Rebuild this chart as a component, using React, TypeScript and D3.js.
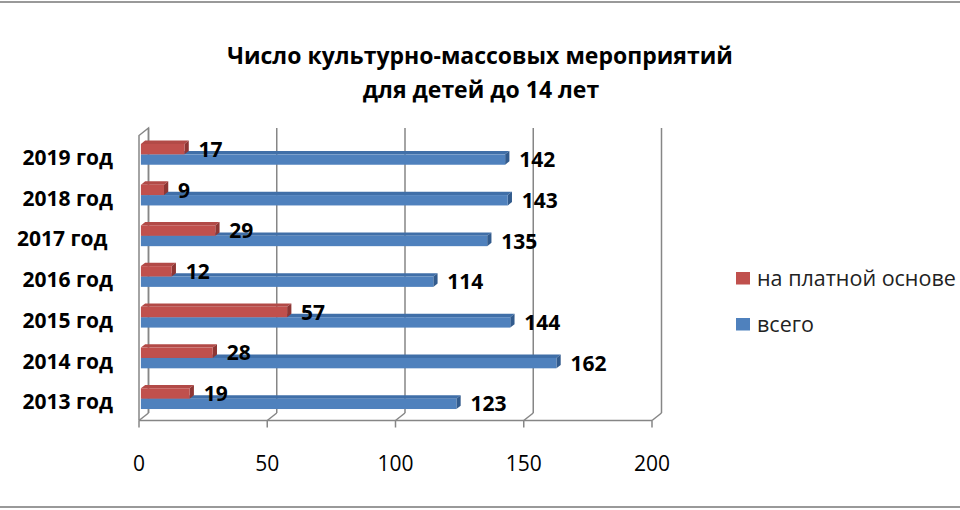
import * as d3 from "d3";

const years = ["2013 год", "2014 год", "2015 год", "2016 год", "2017 год ", "2018 год", "2019 год"];
const paid = [19, 28, 57, 12, 29, 9, 17];
const total = [123, 162, 144, 114, 135, 143, 142];
const xTicks = [0, 50, 100, 150, 200];
const seriesNames = ["на платной основе", "всего"];

const WIDTH = 960;
const HEIGHT = 510;
const FONT = "'Open Sans', 'DejaVu Sans', sans-serif";

// 3D depth offset (front -> back)
const DX = 9.5;
const DY = -7.5;
const D0 = 0.2;
const D1 = 0.65;

const colors = {
  paid: { front: "#C0504D", top: "#B24A47", side: "#8E3634" },
  total: { front: "#4F81BD", top: "#406FA8", side: "#325B8D" },
};

export default function App() {
  const x = d3.scaleLinear().domain([0, 200]).range([139, 652]);
  const y = d3
    .scaleBand()
    .domain([...years].reverse())
    .range([135.5, 420.5])
    .paddingInner(0.49)
    .paddingOuter(0.245);
  const sub = d3.scaleBand().domain(["paid", "total"]).range([0, y.bandwidth()]);

  const floorY = 420.5;
  const wallTop = 135.5;
  const gridColor = "#868686";

  const bar = (key: "paid" | "total", cat: string, v: number) => {
    const yt = (y(cat) || 0) + (sub(key) || 0);
    const yb = yt + sub.bandwidth();
    const x0 = x(0);
    const x1 = x(v);
    const c = colors[key];
    const p = (xx: number, yy: number, d: number) => `${xx + d * DX},${yy + d * DY}`;
    return (
      <g key={key + cat}>
        <polygon
          points={[p(x0, yt, D0), p(x1, yt, D0), p(x1, yt, D1), p(x0, yt, D1)].join(" ")}
          fill={c.top}
        />
        <polygon
          points={[p(x1, yt, D0), p(x1, yt, D1), p(x1, yb, D1), p(x1, yb, D0)].join(" ")}
          fill={c.side}
        />
        <rect x={x0 + D0 * DX} y={yt + D0 * DY} width={x1 - x0} height={yb - yt} fill={c.front} />
        <text
          x={x1 + D0 * DX + 14}
          y={(yt + yb) / 2 + D0 * DY + 2}
          dominantBaseline="middle"
          fontFamily={FONT}
          fontWeight="bold"
          fontSize={21}
          fill="#000"
        >
          {v}
        </text>
      </g>
    );
  };

  return (
    <svg
      width={WIDTH}
      height={HEIGHT}
      style={{ position: "absolute", left: 0, top: 0, background: "#fff" }}
    >
      <line x1={0} x2={WIDTH} y1={2} y2={2} stroke="#999" strokeWidth={2} />
      <line x1={0} x2={WIDTH} y1={507} y2={507} stroke="#999" strokeWidth={2} />

      <text x={480} y={64} textAnchor="middle" fontFamily={FONT} fontWeight="bold" fontSize={23}>
        Число культурно-массовых мероприятий
      </text>
      <text x={481} y={98} textAnchor="middle" fontFamily={FONT} fontWeight="bold" fontSize={23}>
        для детей до 14 лет
      </text>

      {/* walls and grid */}
      <g stroke={gridColor} strokeWidth={1.5} fill="none">
        <polyline
          points={`${x(0) + DX},${floorY + DY} ${x(0) + DX},${wallTop + DY} ${x(0)},${wallTop} ${x(0)},${floorY}`}
        />
        {xTicks.map((t) => (
          <g key={t}>
            <line x1={x(t) + DX} x2={x(t) + DX} y1={wallTop + DY} y2={floorY + DY} />
            <line x1={x(t) + DX} x2={x(t)} y1={floorY + DY} y2={floorY} />
            <line x1={x(t)} x2={x(t)} y1={floorY} y2={floorY + 7} />
          </g>
        ))}
        <line x1={x(0)} x2={x(200)} y1={floorY} y2={floorY} />
      </g>

      {years.map((cat, i) => (
        <g key={cat}>
          {bar("total", cat, total[i])}
          {bar("paid", cat, paid[i])}
          <text
            x={113}
            y={(y(cat) || 0) + y.bandwidth() / 2 + D0 * DY + 5}
            textAnchor="end"
            dominantBaseline="middle"
            fontFamily={FONT}
            fontWeight="bold"
            fontSize={21}
            style={{ whiteSpace: "pre" }}
          >
            {cat}
          </text>
        </g>
      ))}

      {xTicks.map((t) => (
        <text key={t} x={x(t)} y={471} textAnchor="middle" fontFamily={FONT} fontSize={21} fill="#000">
          {t}
        </text>
      ))}

      {/* legend */}
      {seriesNames.map((name, i) => (
        <g key={name} transform={`translate(736,${272 + i * 46})`}>
          <rect width={14} height={12.5} fill={i === 0 ? colors.paid.front : colors.total.front} />
          <text x={21} y={14} fontFamily={FONT} fontSize={21.5} fill="#222">
            {name}
          </text>
        </g>
      ))}
    </svg>
  );
}
